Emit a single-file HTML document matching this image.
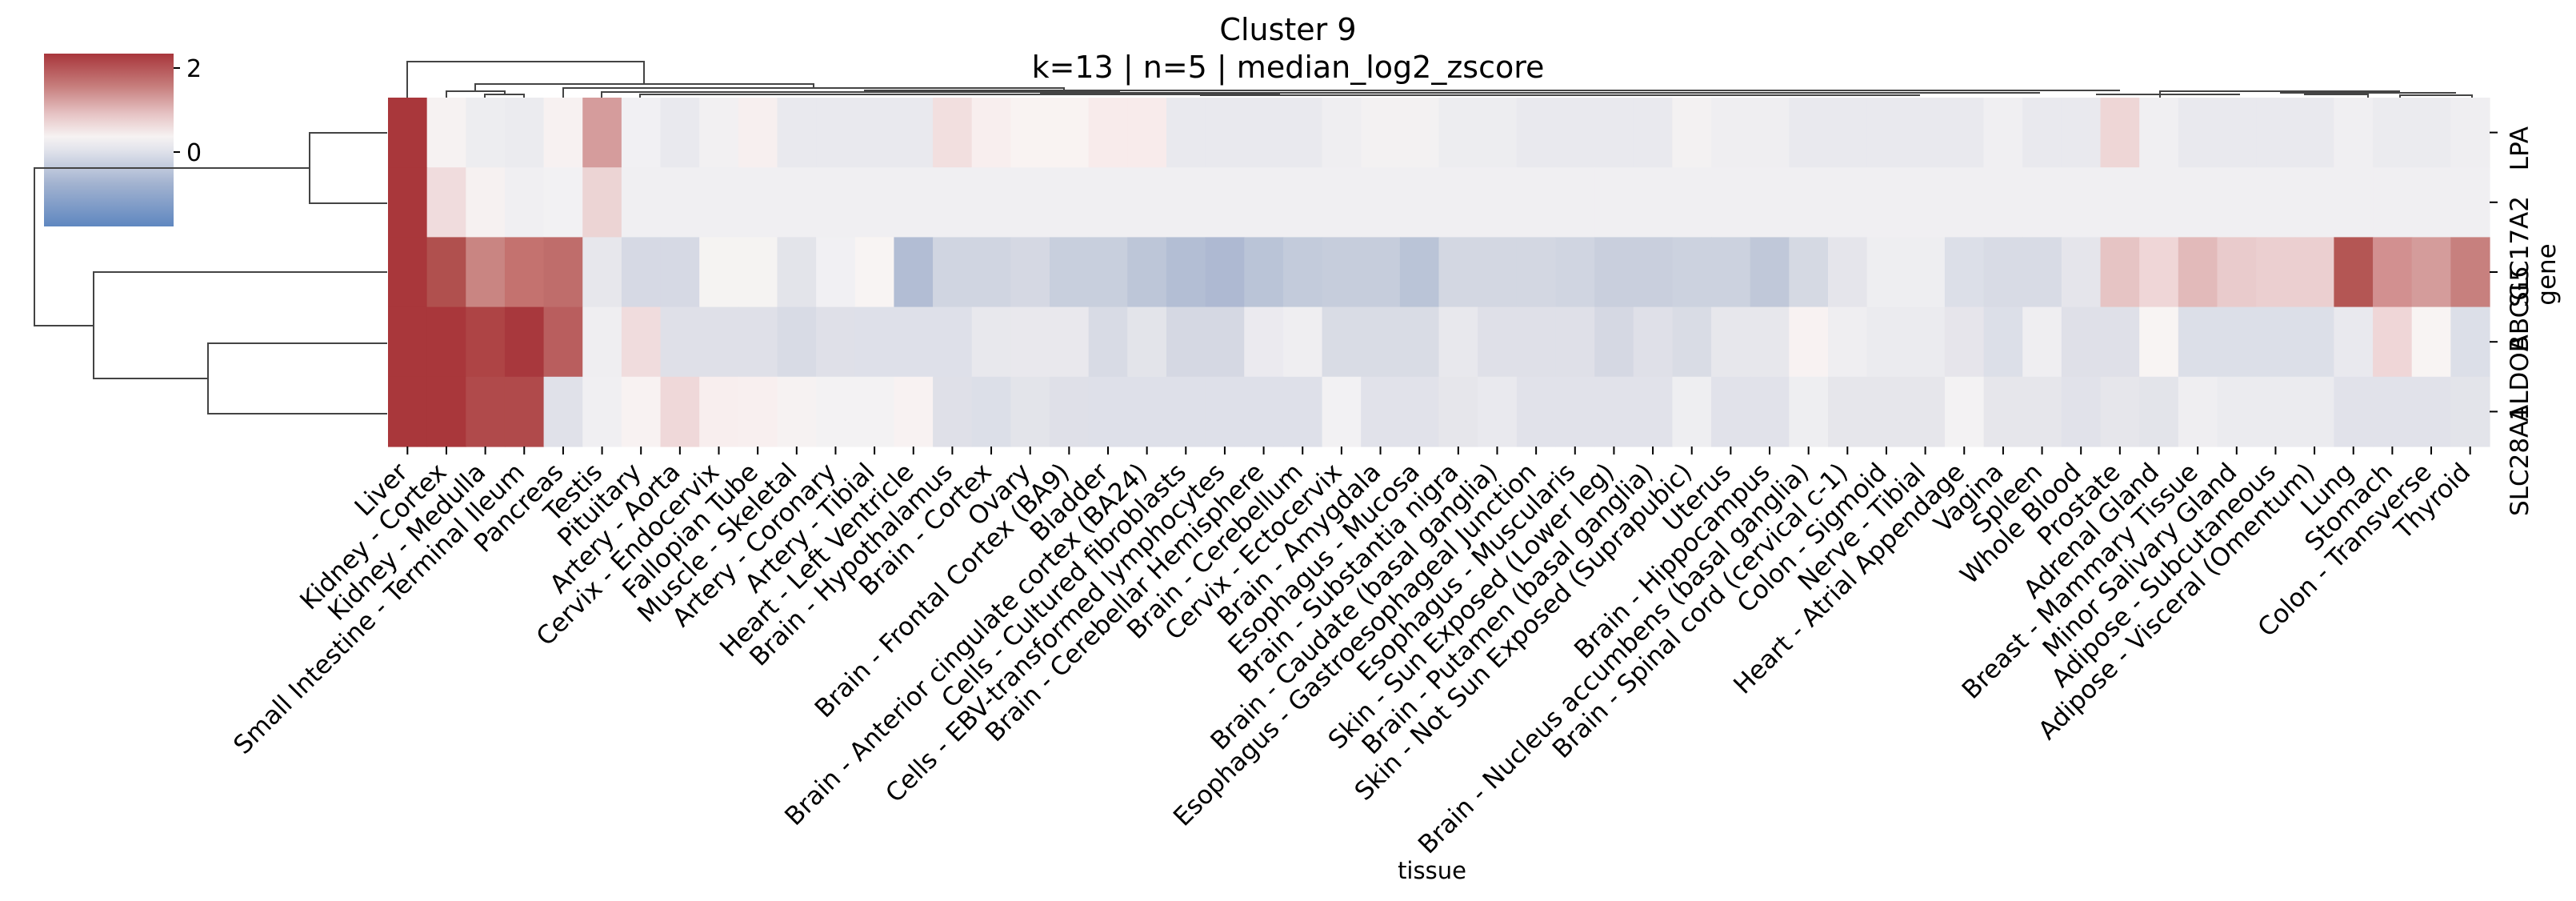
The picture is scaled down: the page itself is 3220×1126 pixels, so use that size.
<!DOCTYPE html>
<html><head><meta charset="utf-8"><style>
html,body{margin:0;padding:0;background:#fff;}
svg{display:block;}
text{font-family:"DejaVu Sans","Liberation Sans",sans-serif;fill:#000;}
</style></head><body>
<svg id="s" width="3220" height="1126" viewBox="0 0 3220 1126" xmlns="http://www.w3.org/2000/svg">
<defs>
<linearGradient id="cb" x1="0" y1="1" x2="0" y2="0">
<stop offset="0" stop-color="#5f87c0"/>
<stop offset="0.25" stop-color="#a3b3d0"/>
<stop offset="0.45" stop-color="#e4e5ec"/>
<stop offset="0.52" stop-color="#f6f2f2"/>
<stop offset="0.65" stop-color="#e6c3c4"/>
<stop offset="0.82" stop-color="#c57a79"/>
<stop offset="1" stop-color="#a8363b"/>
</linearGradient>
</defs>
<rect x="0" y="0" width="3220" height="1126" fill="#fff"/>
<g id="cells"></g>
<rect x="55" y="67" width="162" height="216" fill="url(#cb)"/>
<line x1="217" y1="85" x2="225" y2="85" stroke="#000" stroke-width="2"/>
<line x1="217" y1="190" x2="225" y2="190" stroke="#000" stroke-width="2"/>
<text x="233" y="96" font-size="30">2</text>
<text x="233" y="201" font-size="30">0</text>
<text x="1610" y="50" font-size="38" text-anchor="middle">Cluster 9</text>
<text x="1610" y="97" font-size="38" text-anchor="middle">k=13 | n=5 | median_log2_zscore</text>
<g stroke="#444" stroke-width="2" fill="none">
<polyline points="484,166 387,166 387,254 484,254"/>
<polyline points="387,210 43,210 43,407 117,407"/>
<polyline points="484,340 117,340 117,473 260,473"/>
<polyline points="484,429 260,429 260,517 484,517"/>
</g>
<g stroke="#444" stroke-width="2" fill="none">
<polyline points="509,122 509,77 805,77 805,105"/>
<polyline points="594,114 594,105 1017,105 1017,110"/>
<polyline points="558,122 558,114 631,114 631,118"/>
<polyline points="606,122 606,118 655,118 655,122"/>
<polyline points="704,122 704,110 1330,110 1330,113"/>
<polyline points="752,122 752,115 1400,115"/>
<polyline points="800,122 800,118 1600,118"/>
<polyline points="1080,113 2650,113"/>
<polyline points="1300,116 2550,116"/>
<polyline points="1500,119 2400,119"/>
<polyline points="2700,122 2700,114 3000,114"/>
<polyline points="2850,116 3070,116"/>
<polyline points="2880,118 2960,118 2960,122"/>
<polyline points="3000,122 3000,119 3090,119 3090,122"/>
<polyline points="2620,118 2800,118"/>
</g>
<g id="ticks" stroke="#000" stroke-width="2"></g>
<g id="xl"></g>
<g font-size="31">
<text transform="translate(3160,158) rotate(-90)" text-anchor="end">LPA</text>
<text transform="translate(3160,245) rotate(-90)" text-anchor="end">SLC17A2</text>
<text transform="translate(3160,332) rotate(-90)" text-anchor="end">ABCG5</text>
<text transform="translate(3160,419) rotate(-90)" text-anchor="end">ALDOB</text>
<text transform="translate(3160,506) rotate(-90)" text-anchor="end">SLC28A1</text>
</g>
<text transform="translate(3194,343) rotate(-90)" text-anchor="middle" font-size="31">gene</text>
<text x="1790" y="1098" font-size="29" text-anchor="middle">tissue</text>
</svg>
<script>
var R="a9373b";
function rep(c,n){var a=[];for(var i=0;i<n;i++)a.push(c);return a;}
var r1=[R,"f6f2f2","ededf0","ebebef","f7f1f1","d59c9c","f1f0f3","e9e9ee","f2f0f2","f7efef","e9e9ee","e9e9ee","e9e9ee","e9e9ee","f2dfdf","f8eeee","f9f3f2","f9f3f2","f8ebeb","f8ebeb","e9e9ee","e9e9ee","e9e9ee","e9e9ee","efeef1","f3f1f2","f3f1f2","ededf0","ededf0","e9e9ee","e9e9ee","e9e9ee","e9e9ee","f3f1f2","efeef1","efeef1","e9e9ee","e9e9ee","e9e9ee","e9e9ee","e9e9ee","f0eff2","e9e9ee","e9e9ee","eed6d6","f0eff2","e9e9ee","e9e9ee","e9e9ee","e9e9ee","f0eff2","ebebef","ebebef","efeef1"];
var r2=[R,"f0dcdd","f6f1f1","f0eff2","f2f1f3","ecd4d4"].concat(rep("f0eff2",48));
var r3=[R,"b0504e","c98582","c4726f","bf6d6b","e7e7ec","d6d9e4","d6d9e4","f5f3f2","f5f3f2","e3e4ea","f1f0f3","f8f4f3","b2bdd4","d0d5e1","d0d5e1","d5d8e3","c8cfdd","c8cfdd","bdc6d8","b3bed4","aeb9d2","bac4d7","c3cbdb","c6cddc","c6cddc","bac4d7","d3d7e2","d3d7e2","d3d7e2","d0d5e1","c9cfdd","c9cfdd","ccd2df","ccd2df","c0c8d9","d5d9e3","e5e5eb","eeeef1","eeeef1","dcdfe8","d8dbe5","d8dbe5","e5e5eb","e6c4c4","efd6d7","e2baba","e9cbcc","ebcfd0","ebcfd0","b45654","d29090","d49c9b","c7807e"];
var r4=[R,R,"ae4445","a8383d","b95e5e","efeef1","f0dcdd","dfe0e8","dfe0e8","dfe0e8","d8dbe5","dfe0e8","dee0e9","dee0e9","dee0e9","e8e8ed","e9e8ed","e9e8ed","d8dbe5","e3e4ea","d5d8e3","d5d8e3","ebeaef","efeef1","d9dce5","d9dce5","d9dce5","e8e8ed","dfe0e8","dfe0e8","dfe0e8","d5d8e3","dfe0e8","d9dce5","e7e7ec","e7e7ec","f8f2f2","efeef1","ebebef","ebebef","e6e5eb","dcdfe8","efeef1","dfe0e8","dfe0e8","f8f4f3","dcdfe8","dcdfe8","dcdfe8","dcdfe8","e9e9ee","efd6d7","f8f4f3","dcdfe8"];
var r5=[R,R,"b04a4b","b04a4b","e0e1e9","f0eff2","f8f2f2","efd8d9","f8eeee","f8efef","f6f2f2","f3f2f3","f3f2f3","f8f2f2","dfe0e8","dcdfe8","e3e4ea","dfe0e8","dee0e9","dee0e9","dee0e9","dee0e9","dee0e9","dee0e9","f2f1f3","e1e2ea","e1e2ea","e6e6eb","e9e9ee","e1e2ea","e1e2ea","e1e2ea","e1e2ea","eeeef1","e1e2ea","e1e2ea","eeeef1","e6e6eb","e6e6eb","e6e6eb","f3f2f3","e6e6eb","e6e6eb","e1e2ea","e6e6eb","e3e4ea","efeef1","ebebef","ebebef","ebebef","e1e2ea","e1e2ea","e1e2ea","e3e4ea"];
var rows=[r1,r2,r3,r4,r5];
var x0=485,x1=3112,y0=122,y1=558,cw=(x1-x0)/54,rh=(y1-y0)/5;
var ns="http://www.w3.org/2000/svg";
var g=document.getElementById("cells");
for(var r=0;r<5;r++)for(var c=0;c<54;c++){
 var e=document.createElementNS(ns,"rect");
 e.setAttribute("x",(x0+c*cw).toFixed(2));e.setAttribute("y",(y0+r*rh).toFixed(2));
 e.setAttribute("width",(cw+0.6).toFixed(2));e.setAttribute("height",(rh+0.6).toFixed(2));
 e.setAttribute("fill","#"+(rows[r][c]||"f0eff2"));g.appendChild(e);}
var names=["Liver","Kidney - Cortex","Kidney - Medulla","Small Intestine - Terminal Ileum","Pancreas","Testis","Pituitary","Artery - Aorta","Cervix - Endocervix","Fallopian Tube","Muscle - Skeletal","Artery - Coronary","Artery - Tibial","Heart - Left Ventricle","Brain - Hypothalamus","Brain - Cortex","Ovary","Brain - Frontal Cortex (BA9)","Bladder","Brain - Anterior cingulate cortex (BA24)","Cells - Cultured fibroblasts","Cells - EBV-transformed lymphocytes","Brain - Cerebellar Hemisphere","Brain - Cerebellum","Cervix - Ectocervix","Brain - Amygdala","Esophagus - Mucosa","Brain - Substantia nigra","Brain - Caudate (basal ganglia)","Esophagus - Gastroesophageal Junction","Esophagus - Muscularis","Skin - Sun Exposed (Lower leg)","Brain - Putamen (basal ganglia)","Skin - Not Sun Exposed (Suprapubic)","Uterus","Brain - Hippocampus","Brain - Nucleus accumbens (basal ganglia)","Brain - Spinal cord (cervical c-1)","Colon - Sigmoid","Nerve - Tibial","Heart - Atrial Appendage","Vagina","Spleen","Whole Blood","Prostate","Adrenal Gland","Breast - Mammary Tissue","Minor Salivary Gland","Adipose - Subcutaneous","Adipose - Visceral (Omentum)","Lung","Stomach","Colon - Transverse","Thyroid"];
var tk=document.getElementById("ticks"),xl=document.getElementById("xl");
for(var c=0;c<54;c++){
 var cx=x0+(c+0.5)*cw;
 var l=document.createElementNS(ns,"line");
 l.setAttribute("x1",cx);l.setAttribute("x2",cx);l.setAttribute("y1",y1);l.setAttribute("y2",y1+10);tk.appendChild(l);
 var t=document.createElementNS(ns,"text");
 t.setAttribute("transform","translate("+(cx+2).toFixed(1)+",592) rotate(-45)");
 t.setAttribute("text-anchor","end");t.setAttribute("font-size","31.5");
 t.textContent=names[c];xl.appendChild(t);}
for(var r=0;r<5;r++){
 var y=y0+(r+0.5)*rh;
 var l=document.createElementNS(ns,"line");
 l.setAttribute("x1",x1);l.setAttribute("x2",x1+10);l.setAttribute("y1",y);l.setAttribute("y2",y);tk.appendChild(l);}
</script>
</body></html>
